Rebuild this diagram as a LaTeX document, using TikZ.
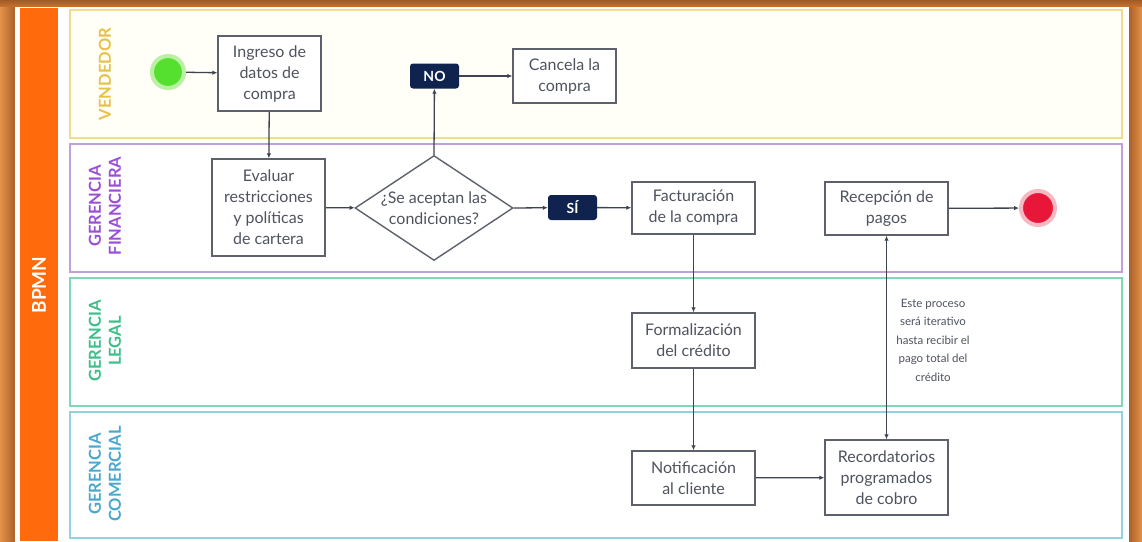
\documentclass[tikz,border=0pt]{standalone}
\usepackage{fontspec}
\setmainfont{Lato}
\usetikzlibrary{shapes.geometric,arrows.meta}
\definecolor{frameC}{HTML}{C9722F}
\definecolor{frameL}{HTML}{E5924A}
\definecolor{barC}{HTML}{FF6A0C}
\definecolor{venB}{HTML}{F0DC8E}
\definecolor{venT}{HTML}{E6C24A}
\definecolor{finB}{HTML}{BDA0DC}
\definecolor{finT}{HTML}{9A4FD6}
\definecolor{legB}{HTML}{80D8BA}
\definecolor{legT}{HTML}{3CBF88}
\definecolor{comB}{HTML}{94D2E2}
\definecolor{comT}{HTML}{4AA8CE}
\definecolor{boxB}{HTML}{5C616C}
\definecolor{txtC}{HTML}{4E535E}
\definecolor{lineC}{HTML}{3E4350}
\definecolor{navyC}{HTML}{10224E}
\definecolor{startC}{HTML}{55E030}
\definecolor{startH}{HTML}{B9F0A2}
\definecolor{endC}{HTML}{E8173A}
\definecolor{endH}{HTML}{F6B8C2}
\begin{document}
\begin{tikzpicture}[x=1pt,y=-1pt,
  lane/.style={line width=2.6pt},
  lanelabel/.style={rotate=90,align=center,font=\fontsize{16.5}{20}\selectfont\bfseries,inner sep=0pt},
  task/.style={draw=boxB,line width=1.4pt,fill=white,text=txtC,align=center,
    font=\fontsize{16}{21}\selectfont,inner sep=2pt},
  tag/.style={fill=navyC,text=white,rounded corners=3pt,font=\fontsize{14}{16}\selectfont\bfseries,
    minimum width=49pt,minimum height=25pt,inner sep=0pt},
  flow/.style={draw=lineC,line width=1.3pt,-{Latex[length=5pt,width=4.5pt]}},
  note/.style={text=txtC,align=center,font=\fontsize{11.5}{18.5}\selectfont,inner sep=0pt}
]
\useasboundingbox (0,0) rectangle (1142,541);
% frame
\fill[frameC] (0,0) rectangle (1142,541);
\shade[top color=frameC!80!black,bottom color=frameC] (0,0) rectangle (1142,7);
\shade[left color=frameL,right color=frameC!85!black] (0,7) rectangle (15,541);
\shade[left color=frameC!85!black,right color=frameL] (1129,7) rectangle (1142,541);
\fill[white] (15,7) rectangle (1129,541);
\fill[barC] (20,8) rectangle (58,541);
\node[rotate=90,text=white,font=\fontsize{19}{21}\selectfont\bfseries] (bpmn) at (39,285) {BPMN};
% lanes
\draw[lane,draw=venB,fill=yellow!3] (70,10) rectangle (1122,138);
\draw[lane,draw=finB,fill=white] (70,144) rectangle (1122,272);
\draw[lane,draw=legB,fill=white] (70,278) rectangle (1122,406);
\draw[lane,draw=comB,fill=white] (70,412) rectangle (1122,538);
\node[lanelabel,text=venT] (lv) at (105,74) {VENDEDOR};
\node[lanelabel,text=finT] (lf) at (105,206) {GERENCIA\\FINANCIERA};
\node[lanelabel,text=legT] (ll) at (105,341) {GERENCIA\\LEGAL};
\node[lanelabel,text=comT] (lc) at (105,474) {GERENCIA\\COMERCIAL};
% events
\node[circle,draw=startH,line width=4pt,fill=startC,minimum size=32pt,inner sep=0pt] (start) at (168,72) {};
\node[circle,draw=endH,line width=4pt,fill=endC,minimum size=34pt,inner sep=0pt] (end) at (1038,208) {};
% tasks
\node[task,minimum width=103pt,minimum height=75pt] (ingreso) at (269.5,73.5) {Ingreso de\\datos de\\compra};
\node[task,minimum width=113pt,minimum height=97pt] (evaluar) at (268.5,207.5) {Evaluar\\restricciones\\y políticas\\de cartera};
\node[diamond,draw=boxB,line width=1.4pt,fill=white,minimum width=158pt,minimum height=105pt,inner sep=0pt] (dec) at (434,208) {};
\node[text=txtC,align=center,font=\fontsize{16}{21}\selectfont,inner sep=0pt] (dectxt) at (434,208) {¿Se aceptan las\\condiciones?};
\node[tag] (no) at (434.5,76) {NO};
\node[task,minimum width=103pt,minimum height=54pt] (cancela) at (564.5,76) {Cancela la\\compra};
\node[tag] (si) at (572.5,207.5) {SÍ};
\node[task,minimum width=123pt,minimum height=52pt] (fact) at (693.5,208) {Facturación\\de la compra};
\node[task,minimum width=123pt,minimum height=53pt] (recep) at (886.5,208.5) {Recepción de\\pagos};
\node[task,minimum width=123pt,minimum height=55pt] (formal) at (693.5,340.5) {Formalización\\del crédito};
\node[task,minimum width=123pt,minimum height=54pt] (notif) at (693.5,478) {Notificación\\al cliente};
\node[task,minimum width=123pt,minimum height=75pt] (record) at (886.5,477.5) {Recordatorios\\programados\\de cobro};
\node[note] (nota) at (933,340) {Este proceso\\será iterativo\\hasta recibir el\\pago total del\\crédito};
% flows
\draw[flow] (start) -- (ingreso);
\draw[flow] (ingreso) -- (evaluar);
\draw[flow] (evaluar) -- (dec);
\draw[flow] (dec.north) -- (no);
\draw[flow] (no) -- (cancela);
\draw[flow] (dec.east) -- (si);
\draw[flow] (si) -- (fact);
\draw[flow] (fact) -- (formal);
\draw[flow] (formal) -- (notif);
\draw[flow] (notif) -- (record);
\draw[flow,{Latex[length=5pt,width=4.5pt]}-{Latex[length=5pt,width=4.5pt]}] (recep) -- (record);
\draw[flow] (recep) -- (end);
\end{tikzpicture}
\end{document}
